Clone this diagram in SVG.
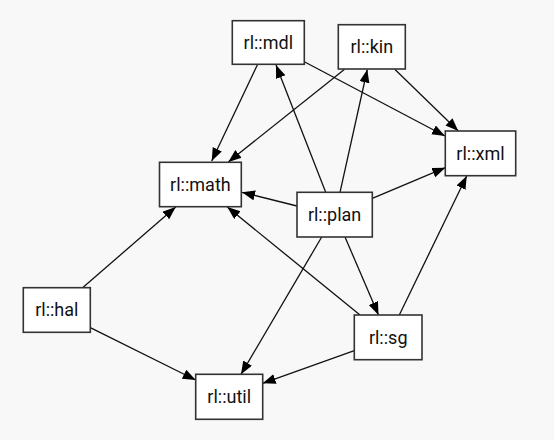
<svg xmlns="http://www.w3.org/2000/svg" width="554" height="440" viewBox="0 0 554 440">
<style>
.bg{fill:#f8f8f8}
.node rect{fill:#ffffff;stroke:#333333;stroke-width:1.6}
.node text{font-family:Roboto,"Liberation Sans",sans-serif;font-size:18px;fill:#111111;text-anchor:middle}
.edges line{stroke:#111111;stroke-width:1.3;marker-end:url(#ah)}
</style>
<defs>
<marker id="ah" markerUnits="userSpaceOnUse" markerWidth="13" markerHeight="11" refX="13" refY="5" orient="auto">
<path d="M0,0 L13,5 L0,10 z" fill="#000000"/>
</marker>
</defs>
<rect class="bg" x="0" y="0" width="554" height="440"/>
<g id="edges" class="edges">
<line x1="257.3" y1="65" x2="211.7" y2="161"/>
<line x1="304.3" y1="61.7" x2="445" y2="136"/>
<line x1="344.3" y1="69.5" x2="228.3" y2="162"/>
<line x1="395" y1="69.5" x2="458.3" y2="131"/>
<line x1="325.7" y1="192.3" x2="276" y2="65"/>
<line x1="340" y1="192.3" x2="367.3" y2="69.5"/>
<line x1="372.3" y1="198.3" x2="445.3" y2="167.7"/>
<line x1="297" y1="206" x2="242" y2="192.3"/>
<line x1="82.3" y1="288" x2="175.7" y2="207"/>
<line x1="360" y1="315" x2="227.3" y2="207"/>
<line x1="321.7" y1="237" x2="241" y2="374.3"/>
<line x1="345" y1="237" x2="378.5" y2="315"/>
<line x1="399.3" y1="315" x2="466.7" y2="176"/>
<line x1="354.3" y1="350.7" x2="262.7" y2="383.3"/>
<line x1="90.3" y1="327.7" x2="195.7" y2="380"/>
</g>
<g id="rl_mdl" class="node"><rect x="232.3" y="20.7" width="72" height="43.6"/><text x="268.3" y="48.8">rl::mdl</text></g>
<g id="rl_kin" class="node"><rect x="338.3" y="24.7" width="67" height="44.3"/><text x="371.8" y="53.1">rl::kin</text></g>
<g id="rl_xml" class="node"><rect x="445.3" y="131" width="70.4" height="44.7"/><text x="480.5" y="159.6">rl::xml</text></g>
<g id="rl_math" class="node"><rect x="159.5" y="162.3" width="81.8" height="44.4"/><text x="200.4" y="190.9">rl::math</text></g>
<g id="rl_plan" class="node"><rect x="297" y="192.3" width="75.3" height="44.7"/><text x="334.6" y="220.9">rl::plan</text></g>
<g id="rl_hal" class="node"><rect x="23.3" y="287.7" width="67" height="44.6"/><text x="56.8" y="316.3">rl::hal</text></g>
<g id="rl_sg" class="node"><rect x="354.3" y="315" width="67.7" height="44.7"/><text x="388.2" y="343.6">rl::sg</text></g>
<g id="rl_util" class="node"><rect x="195.7" y="374.3" width="67" height="45"/><text x="229.2" y="403.1">rl::util</text></g>
</svg>
